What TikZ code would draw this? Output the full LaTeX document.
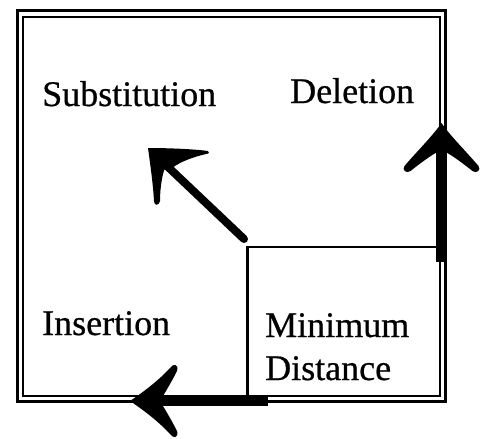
\documentclass[tikz,border=0pt]{standalone}
\usepackage{fontspec}
\setmainfont{Liberation Serif}[FakeBold=0.6]
\begin{document}
\begin{tikzpicture}[x=1pt,y=-1pt,
  lbl/.style={anchor=base west, inner sep=0pt, font=\fontsize{36}{43}\selectfont},
  boxstyle/.style={draw, line width=2.6pt, inner sep=0pt, outer sep=0pt, anchor=north west},
  barb/.pic={\fill[black] (0,0) .. controls (-12,8) and (-30,26) .. (-43,37)
      .. controls (-47,40) and (-51,35) .. (-48,31)
      .. controls (-40,21) and (-32,10) .. (-29,4) -- (-29,-4)
      .. controls (-32,-10) and (-40,-21) .. (-48,-31)
      .. controls (-51,-35) and (-47,-40) .. (-43,-37)
      .. controls (-30,-26) and (-12,-8) .. (0,0) -- cycle;},
  hbarb/.pic={\fill[black] (0,0) .. controls (-15,10) and (-30,22) .. (-40,33)
      .. controls (-43,38) and (-49,37) .. (-47,30)
      .. controls (-42,20) and (-36,10) .. (-33,5) -- (-33,-5)
      .. controls (-36,-10) and (-42,-20) .. (-47,-30)
      .. controls (-49,-37) and (-43,-38) .. (-40,-33)
      .. controls (-30,-22) and (-15,-10) .. (0,0) -- cycle;},
  dhead/.pic={\fill[black] (0,0) .. controls (20,0) and (45,1) .. (60,3)
      .. controls (62,4) and (61,6) .. (58,6)
      .. controls (45,9) and (32,14) .. (25,19.4) -- (16.2,21.8)
      .. controls (13,32) and (12,45) .. (12,53)
      .. controls (11,58) and (6,58) .. (6,53)
      .. controls (5,35) and (2,15) .. (0,0) -- cycle;}
]
\useasboundingbox (0,0) rectangle (485,439);
% double frame
\draw[line width=3pt] (17.5,10.5) rectangle (445.5,401.5);
\draw[line width=2pt] (23,16.5) rectangle (440,396);
% inner box
\node[boxstyle, minimum width=192.5pt, minimum height=149pt] (mdbox) at (247.5,247) {};
% labels
\node[lbl] (sub) at (42,106) {Substitution};
\node[lbl] (del) at (290,103) {Deletion};
\node[lbl] (ins) at (42,335) {Insertion};
\node[lbl] (md1) at (265,337) {Minimum};
\node[lbl] (md2) at (265,380) {Distance};
% arrow end points
\coordinate (vs) at (441.5,262);
\coordinate (vt) at (441.5,123);
\coordinate (hs) at (268,401);
\coordinate (ht) at (130,401);
\coordinate (ds) at (244,239);
\coordinate (dt) at (148,148);
% shafts
\draw[line width=11pt, shorten >=25pt] (vs) -- (vt);
\draw[line width=9pt, shorten >=25pt] (hs) -- (ht);
\draw[line width=8pt, line cap=round, shorten >=20pt] (ds) -- (dt);
% heads
\pic[rotate=90] at (vt) {barb};
\pic[rotate=180] at (ht) {hbarb};
\pic at (dt) {dhead};
\end{tikzpicture}
\end{document}
